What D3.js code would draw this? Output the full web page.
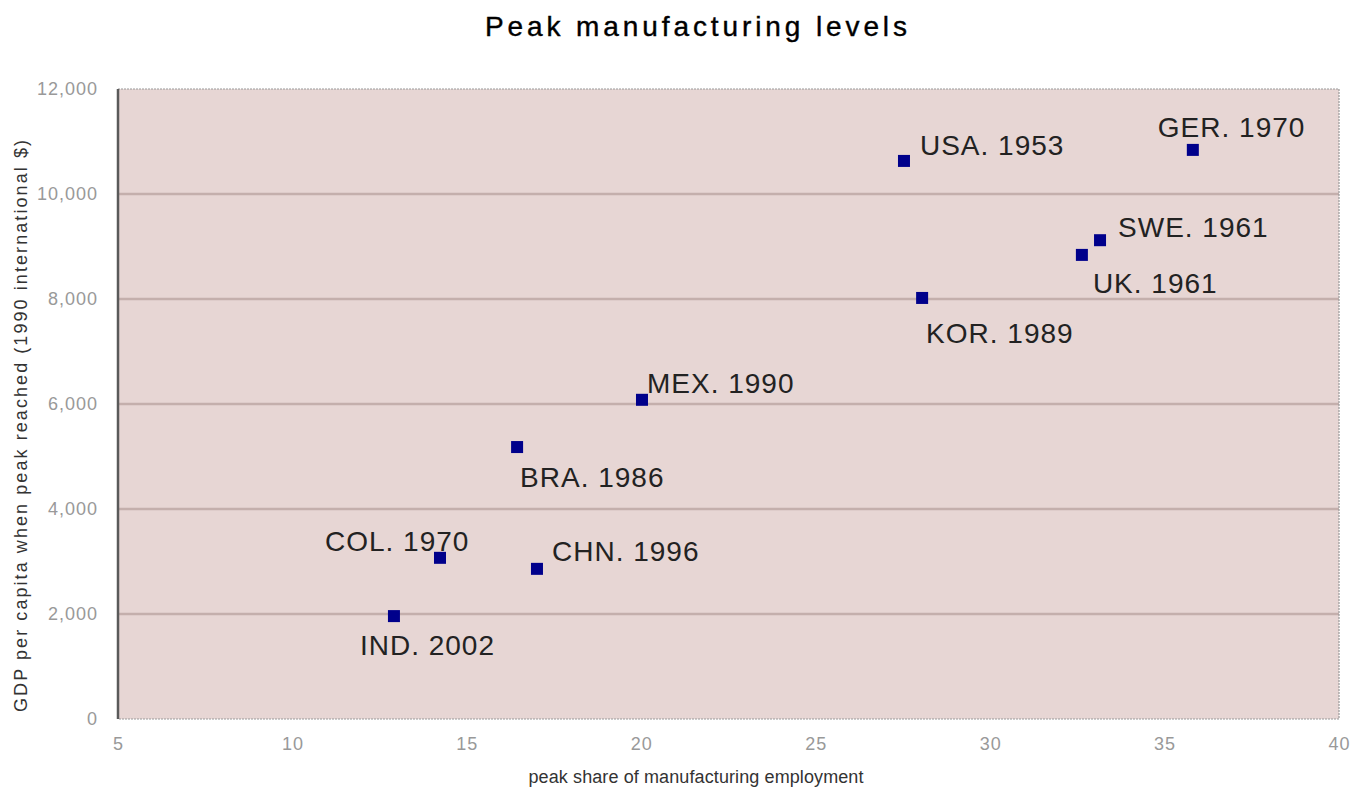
<!DOCTYPE html>
<html>
<head>
<meta charset="utf-8">
<script src="https://cdn.jsdelivr.net/npm/d3@7"></script>
<style>
  body { margin: 0; background: #fff; }
  text { font-family: "Liberation Sans", Arial, sans-serif; }
</style>
</head>
<body>
<div class="canvas"></div>
<script>
// chart data.
const countries = ['USA', 'GER', 'SWE', 'UK', 'KOR', 'MEX', 'BRA', 'COL', 'CHN', 'IND'];
const peakYears = [1953, 1970, 1961, 1961, 1989, 1990, 1986, 1970, 1996, 2002];
const peakShare = [27.53, 35.81, 33.15, 32.63, 28.05, 20.02, 16.44, 14.23, 17.01, 12.91];
const gdpPerCapita = [10630, 10840, 9120, 8840, 8020, 6080, 5180, 3070, 2860, 1960];
const xTicks = [5, 10, 15, 20, 25, 30, 35, 40];
const yTicks = [0, 2000, 4000, 6000, 8000, 10000, 12000];

// label placement relative to each marker (dx, dy of the text baseline).
const labelOffsets = [[16, -6], [-35, -13], [18, -3], [11, 38], [4, 45], [5, -7], [3, 40], [-115, -7], [15, -8], [-34, 39]];

// dimensions.
const svgDimensions = { width: 1353, height: 789 };
const plot = { left: 118, top: 89, right: 1339, bottom: 719 };

const svg = d3.select('.canvas')
    .append('svg')
        .attr('width', svgDimensions.width)
        .attr('height', svgDimensions.height);

const x = d3.scaleLinear().domain([5, 40]).range([plot.left, plot.right]);
const y = d3.scaleLinear().domain([0, 12000]).range([plot.bottom, plot.top]);

// plot background.
svg.append('rect')
    .attr('x', plot.left)
    .attr('y', plot.top)
    .attr('width', plot.right - plot.left)
    .attr('height', plot.bottom - plot.top)
    .attr('fill', '#e7d6d4');

// gridlines.
svg.append('g')
    .selectAll('line')
    .data(yTicks.filter(t => t > 0 && t < 12000))
    .enter()
    .append('line')
        .attr('x1', plot.left)
        .attr('x2', plot.right)
        .attr('y1', d => y(d))
        .attr('y2', d => y(d))
        .attr('stroke', '#c4afac')
        .attr('stroke-width', 2.5);

// borders.
svg.append('path')
    .attr('d', `M${plot.left},${plot.top}H${plot.right}V${plot.bottom}H${plot.left}`)
    .attr('fill', 'none')
    .attr('stroke', '#9a9a9a')
    .attr('stroke-width', 1.2)
    .attr('stroke-dasharray', '2,1');

svg.append('line')
    .attr('x1', plot.left).attr('x2', plot.left)
    .attr('y1', plot.top).attr('y2', plot.bottom)
    .attr('stroke', '#5a5a5a')
    .attr('stroke-width', 2.5);

// axes.
const xAxis = d3.axisBottom(x).tickValues(xTicks).tickSize(0).tickPadding(18);
const yAxis = d3.axisLeft(y).tickValues(yTicks).tickSize(0).tickPadding(18).tickFormat(d3.format(','));

const xAxisGroup = svg.append('g')
    .attr('transform', `translate(0,${plot.bottom})`)
    .call(xAxis);
const yAxisGroup = svg.append('g')
    .attr('transform', `translate(${plot.left},0)`)
    .call(yAxis);

[xAxisGroup, yAxisGroup].forEach(g => {
    g.select('.domain').remove();
    g.selectAll('text')
        .attr('fill', '#999')
        .style('font-size', '18px')
        .style('letter-spacing', '1px')
        .style('font-family', '"Liberation Sans", Arial, sans-serif');
});
yAxisGroup.selectAll('text').attr('dx', '-2px');

// markers.
const points = countries.map((c, i) => ({
    name: c, year: peakYears[i], share: peakShare[i], gdp: gdpPerCapita[i], offset: labelOffsets[i]
}));

svg.append('g')
    .selectAll('rect')
    .data(points)
    .enter()
    .append('rect')
        .attr('x', d => x(d.share) - 6)
        .attr('y', d => y(d.gdp) - 6)
        .attr('width', 12)
        .attr('height', 12)
        .attr('fill', '#00008b');

svg.append('g')
    .selectAll('text')
    .data(points)
    .enter()
    .append('text')
        .attr('x', d => x(d.share) + d.offset[0])
        .attr('y', d => y(d.gdp) + d.offset[1])
        .attr('fill', '#222')
        .style('font-size', '28px')
        .style('letter-spacing', '1px')
        .text(d => `${d.name}. ${d.year}`);

// title and axis titles.
svg.append('text')
    .attr('x', 696)
    .attr('y', 36)
    .attr('text-anchor', 'middle')
    .attr('fill', '#000')
    .attr('stroke', '#000')
    .attr('stroke-width', 0.4)
    .style('font-size', '28px')
    .attr('textLength', 422)
    .attr('lengthAdjust', 'spacing')
    .text('Peak manufacturing levels');

svg.append('text')
    .attr('x', 696)
    .attr('y', 783)
    .attr('text-anchor', 'middle')
    .attr('fill', '#333')
    .style('font-size', '18px')
    .attr('textLength', 335)
    .attr('lengthAdjust', 'spacing')
    .text('peak share of manufacturing employment');

svg.append('text')
    .attr('transform', 'translate(27,426) rotate(-90)')
    .attr('text-anchor', 'middle')
    .attr('fill', '#333')
    .style('font-size', '18px')
    .attr('textLength', 572)
    .attr('lengthAdjust', 'spacing')
    .text('GDP per capita when peak reached (1990 international $)');
</script>
</body>
</html>
